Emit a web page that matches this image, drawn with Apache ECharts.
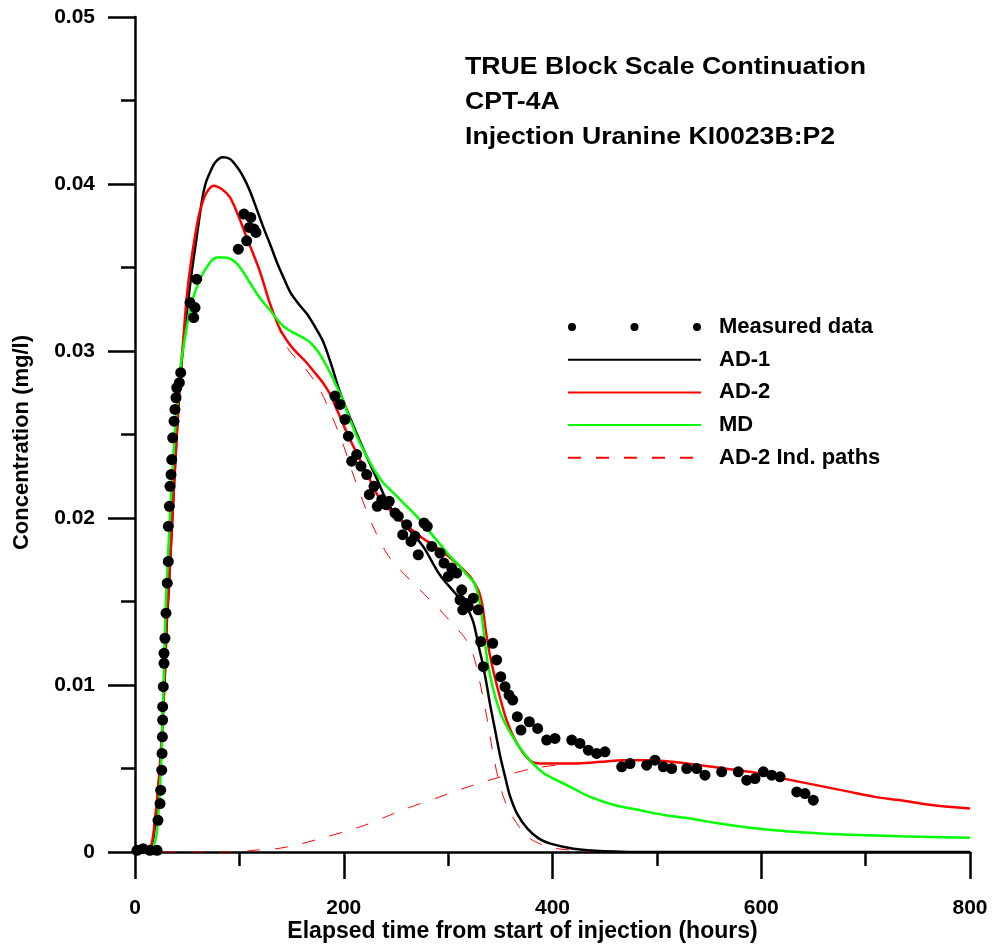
<!DOCTYPE html>
<html lang="en">

<head>
    <meta charset="UTF-8">
    <title>CPT-4A Uranine breakthrough</title>
    <style>
        html, body { margin: 0; padding: 0; background: #fff; }
        #chart { width: 994px; height: 946px; }
    </style>
    <script src="https://cdn.jsdelivr.net/npm/echarts@6/dist/echarts.min.js"></script>
</head>

<body>
    <div id="chart"></div>

    <script>
        // [hours, mg/l]
        var measured = [
            [1.9, 0.0001], [7.7, 0.0002], [14.4, 0.0001], [21.1, 0.0001],
            [22.0, 0.0019], [24.0, 0.0029], [24.6, 0.0037], [25.6, 0.0049], [25.9, 0.0059], [26.2, 0.0069],
            [26.5, 0.0079], [26.5, 0.0087], [27.1, 0.0099], [27.8, 0.0113], [27.8, 0.0119], [28.7, 0.0128],
            [29.7, 0.0143], [30.9, 0.0161], [31.9, 0.0174], [31.9, 0.0195], [32.9, 0.0207], [33.5, 0.0219],
            [34.5, 0.0226], [35.2, 0.0235], [36.1, 0.0248], [37.4, 0.0258], [38.3, 0.0265], [39.3, 0.0272],
            [40.0, 0.0278], [42.5, 0.0281], [43.8, 0.0287],
            [52.7, 0.0329], [56.2, 0.0320], [57.5, 0.0326], [59.1, 0.0343],
            [99.0, 0.0361], [107.0, 0.0366], [104.4, 0.0382], [110.9, 0.0380], [109.5, 0.0374],
            [114.0, 0.0373], [115.9, 0.0371],
            [191.6, 0.0273], [196.4, 0.0268], [201.2, 0.0259], [204.4, 0.0249], [212.4, 0.0238],
            [207.6, 0.0234], [216.5, 0.0231], [222.0, 0.0226], [229.0, 0.0219], [224.5, 0.0214],
            [236.4, 0.0211], [243.6, 0.0210], [232.1, 0.0207], [240.5, 0.0208], [249.1, 0.0203],
            [252.3, 0.0201], [260.3, 0.0196], [256.5, 0.0190], [268.3, 0.0189], [264.4, 0.0186],
            [276.9, 0.0197], [280.0, 0.0195], [271.4, 0.0178], [284.3, 0.0183], [292.2, 0.0179],
            [296.0, 0.0173], [303.4, 0.0170], [300.2, 0.0165], [308.2, 0.0167], [313.0, 0.0157],
            [311.4, 0.0151], [316.2, 0.0149], [314.0, 0.0145], [319.3, 0.0147], [324.1, 0.0152],
            [328.9, 0.0145], [331.2, 0.0126], [342.7, 0.0125], [333.7, 0.0111], [346.5, 0.0115],
            [350.4, 0.0105], [354.5, 0.0099], [358.3, 0.0094], [361.9, 0.0091], [366.3, 0.0081],
            [369.8, 0.0073], [377.8, 0.0078], [385.8, 0.0074], [394.4, 0.0067], [402.4, 0.0068],
            [418.4, 0.0067], [426.3, 0.0065], [434.3, 0.0061], [442.3, 0.0059], [450.3, 0.0060],
            [466.3, 0.0051], [474.3, 0.0053], [490.2, 0.0052], [498.2, 0.0055], [506.2, 0.0051],
            [514.2, 0.0050], [528.6, 0.0050], [538.2, 0.0050], [546.1, 0.0046], [562.1, 0.0048],
            [578.0, 0.0048], [586.1, 0.0043], [594.0, 0.0044], [602.0, 0.0048], [610.0, 0.0046],
            [618.0, 0.0045], [634.0, 0.0036], [641.9, 0.0035], [649.9, 0.0031]
        ];

        var ad1 = [
            [0, 0], [13, 0], [16, 0.0003], [19, 0.0015], [22.3, 0.0037], [25.6, 0.0068], [28.7, 0.0107],
            [30.3, 0.0135], [32, 0.0153], [37, 0.0215], [43, 0.0280], [48, 0.0314], [54.3, 0.0347],
            [59.1, 0.0368], [63.9, 0.0389], [67.5, 0.0400], [71.9, 0.0407], [77, 0.0413], [84, 0.0416],
            [91, 0.0415], [98, 0.0410], [104, 0.0404], [110, 0.0396], [116, 0.0386], [123, 0.0374],
            [130, 0.0363], [136, 0.0353], [143, 0.0343], [149, 0.0335], [157, 0.0328], [165, 0.0322],
            [172, 0.0315], [180, 0.0306], [188, 0.0292], [196, 0.0276], [206, 0.0260], [219, 0.0241],
            [232, 0.0223], [244, 0.0207], [260, 0.0195], [276, 0.0183], [292, 0.0166], [308, 0.0154],
            [318, 0.0146], [324, 0.0138], [329, 0.0124], [333, 0.0113], [337, 0.0100], [340, 0.0089],
            [345, 0.0073], [350, 0.0057], [355, 0.0044], [359, 0.0034], [366, 0.0023], [376, 0.0014],
            [387, 0.0008], [398, 0.0005], [420, 0.0002], [450, 0.00005], [500, 0], [800, 0]
        ];

        var ad2 = [
            [0, 0], [11, 0], [16, 0.0005], [19, 0.0019], [22.3, 0.0039], [25.6, 0.0069], [28.7, 0.0109],
            [30.3, 0.0139], [32, 0.0155], [37, 0.0215], [43, 0.0283], [46.3, 0.0307], [49.5, 0.0332],
            [54.3, 0.0356], [60.7, 0.0380], [64.7, 0.0389], [68.7, 0.0395], [75, 0.0399], [83, 0.0397],
            [91, 0.0392], [99, 0.0381], [107, 0.0368], [114, 0.0357], [120, 0.0347], [129, 0.0329],
            [139, 0.0313], [147, 0.0305], [155, 0.0299], [163, 0.0294], [171, 0.0288], [180, 0.0281],
            [187, 0.0274], [194, 0.0264], [206, 0.0247], [222, 0.0227], [235, 0.0211], [254, 0.0199],
            [273, 0.0189], [292, 0.0181], [308, 0.0173], [321, 0.0165], [327, 0.0159], [330, 0.0155],
            [333, 0.0147], [336, 0.0133], [340, 0.0118], [347, 0.0099], [356, 0.0079], [366, 0.0065],
            [378, 0.0055], [388, 0.0053], [400, 0.0053], [420, 0.0053], [446, 0.0054], [468, 0.0055],
            [493, 0.0055], [515, 0.0054], [541, 0.0052], [565, 0.0050], [589, 0.0048], [613, 0.0045],
            [637, 0.0042], [661, 0.0039], [685, 0.0036], [709, 0.0033], [733, 0.0031], [765, 0.0028],
            [800, 0.0026]
        ];

        var md = [
            [0, 0], [15, 0], [18, 0.0004], [20.8, 0.0011], [24, 0.0039], [26.5, 0.0079], [28.1, 0.0119],
            [29.7, 0.0151], [33, 0.0195], [37, 0.0240], [43, 0.0287], [47.9, 0.0308], [54.3, 0.0329],
            [62.3, 0.0343], [71.9, 0.0353], [79, 0.0356], [86, 0.0356], [92, 0.0355], [98, 0.0352],
            [104, 0.0347], [110, 0.0341], [116, 0.0335], [123, 0.0329], [130, 0.0324], [136, 0.0319],
            [142, 0.0315], [149, 0.0312], [155, 0.0310], [161, 0.0308], [168, 0.0305], [175, 0.0300],
            [181, 0.0294], [187, 0.0287], [193, 0.0279], [199, 0.0271], [206, 0.0259], [214, 0.0247],
            [222, 0.0237], [230, 0.0228], [238, 0.0221], [246, 0.0216], [254, 0.0211], [262, 0.0206],
            [270, 0.0201], [278, 0.0195], [286, 0.0189], [294, 0.0183], [302, 0.0177], [310, 0.0172],
            [318, 0.0166], [324, 0.0162], [327, 0.0158], [330, 0.0150], [332, 0.0142], [335, 0.0127],
            [338, 0.0113], [343, 0.0098], [348, 0.0087], [353, 0.0079], [360, 0.0071], [366, 0.0065],
            [373, 0.0059], [381, 0.0053], [392, 0.0047], [404, 0.0043], [420, 0.0038], [436, 0.0033],
            [460, 0.0028], [484, 0.0025], [508, 0.0022], [532, 0.0020], [560, 0.0017], [589, 0.00145],
            [613, 0.0013], [637, 0.00118], [661, 0.0011], [685, 0.00104], [733, 0.00094], [800, 0.00086]
        ];

        // AD-2 individual paths
        var ad2Path1 = [
            [0, 0], [11, 0], [16, 0.0005], [19, 0.0019], [22.3, 0.0039], [25.6, 0.0069], [28.7, 0.0109],
            [30.3, 0.0139], [32, 0.0155], [37, 0.0215], [43, 0.0283], [46.3, 0.0307], [49.5, 0.0332],
            [54.3, 0.0356], [60.7, 0.0380], [68.7, 0.0395], [75, 0.0399], [83, 0.0397], [91, 0.0392],
            [99, 0.0381], [107, 0.0368], [120, 0.0347], [129, 0.0329], [139, 0.0312], [146, 0.0302],
            [155, 0.0295], [165, 0.0288], [177, 0.0277], [190, 0.0259], [200, 0.0243], [209, 0.0226],
            [219, 0.0209], [228, 0.0195], [241, 0.0179], [254, 0.0169], [273, 0.0157], [292, 0.0145],
            [308, 0.0134], [315, 0.0129], [321, 0.0123], [326, 0.0114], [330, 0.0103], [337, 0.0081],
            [343, 0.0059], [348, 0.0044], [353, 0.0033], [359, 0.0024], [366, 0.0017], [373, 0.0011],
            [381, 0.0007], [392, 0.0004], [405, 0.0002], [430, 0.00005], [460, 0], [800, 0]
        ];

        var ad2Path2 = [
            [0, 0], [100, 0], [113, 0.0001], [136, 0.0002], [160, 0.0005], [177, 0.0008], [200, 0.0012],
            [220, 0.0016], [240, 0.0021], [260, 0.0026], [292, 0.0033], [324, 0.0040], [356, 0.0046],
            [381, 0.0050], [404, 0.0052], [420, 0.0053], [446, 0.0054], [468, 0.0055], [493, 0.0055],
            [515, 0.0054], [541, 0.0052], [565, 0.0050], [589, 0.0048], [613, 0.0045], [637, 0.0042],
            [661, 0.0039], [685, 0.0036], [709, 0.0033], [733, 0.0031], [765, 0.0028], [800, 0.0026]
        ];

        var titleLines = ['TRUE Block Scale Continuation', 'CPT-4A', 'Injection Uranine KI0023B:P2'];

        var FONT = "'Liberation Sans', Arial, sans-serif";
        var threeDots = 'path://M0,4A4,4,0,1,1,8,4A4,4,0,1,1,0,4Z' +
            'M62.5,4A4,4,0,1,1,70.5,4A4,4,0,1,1,62.5,4Z' +
            'M125,4A4,4,0,1,1,133,4A4,4,0,1,1,125,4Z';

        var myChart = echarts.init(document.getElementById('chart'));

        function curve(name, data, color, width, type, z) {
            return {
                name: name,
                type: 'line',
                data: data,
                symbol: 'none',
                smooth: 0.3,
                z: z,
                lineStyle: { color: color, width: width, type: type },
                itemStyle: { color: color }
            };
        }

        // line entries in the legend: keep the line, hide the marker
        function lineItem(name) {
            return { name: name, itemStyle: { opacity: 0 } };
        }

        var option = {
            animation: false,
            backgroundColor: '#fff',
            graphic: [{
                type: 'text',
                x: 465,
                y: 50,
                scaleX: 1.11,
                style: {
                    text: titleLines.join('\n'),
                    fontFamily: FONT,
                    fontWeight: 'bold',
                    fontSize: 24,
                    lineHeight: 35,
                    fill: '#000'
                }
            }],
            legend: {
                orient: 'vertical',
                left: 567,
                top: 316,
                padding: 0,
                itemWidth: 133,
                itemHeight: 20,
                itemGap: 10.7,
                textStyle: {
                    fontFamily: FONT,
                    fontWeight: 'bold',
                    fontSize: 22,
                    color: '#000',
                    padding: [0, 0, 0, 13]
                },
                data: [
                    { name: 'Measured data', icon: threeDots },
                    lineItem('AD-1'), lineItem('AD-2'), lineItem('MD'), lineItem('AD-2 Ind. paths')
                ]
            },
            grid: { left: 135, right: 24, top: 17, bottom: 94, containLabel: false, outerBoundsMode: 'none' },
            xAxis: {
                type: 'value',
                min: 0,
                max: 800,
                interval: 200,
                name: 'Elapsed time from start of injection (hours)',
                nameLocation: 'middle',
                nameGap: 68,
                nameMoveOverlap: false,
                nameTextStyle: {
                    fontFamily: FONT, fontWeight: 'bold', fontSize: 23, color: '#000',
                    padding: [0, 60, 0, 0]
                },
                axisLine: { lineStyle: { color: '#000', width: 2.5 } },
                axisTick: { length: 27, lineStyle: { color: '#000', width: 2.5 } },
                minorTick: { show: true, splitNumber: 2, length: 14, lineStyle: { color: '#000', width: 2.5 } },
                splitLine: { show: false },
                axisLabel: { margin: 46, fontFamily: FONT, fontWeight: 'bold', fontSize: 21, color: '#000' }
            },
            yAxis: {
                type: 'value',
                min: 0,
                max: 0.05,
                interval: 0.01,
                name: 'Concentration (mg/l)',
                nameLocation: 'middle',
                nameGap: 102,
                nameMoveOverlap: false,
                nameTextStyle: {
                    fontFamily: FONT, fontWeight: 'bold', fontSize: 22, color: '#000',
                    padding: [0, 16, 0, 0]
                },
                axisLine: { show: true, lineStyle: { color: '#000', width: 2.5 } },
                axisTick: { show: true, length: 27, lineStyle: { color: '#000', width: 2.5 } },
                minorTick: { show: true, splitNumber: 2, length: 14, lineStyle: { color: '#000', width: 2.5 } },
                splitLine: { show: false },
                axisLabel: { margin: 40, fontFamily: FONT, fontWeight: 'bold', fontSize: 21, color: '#000' }
            },
            series: [
                curve('AD-2 Ind. paths', ad2Path1, '#ff0000', 1, [13, 15], 1),
                curve('AD-2 Ind. paths', ad2Path2, '#ff0000', 1, [13, 15], 1),
                curve('AD-1', ad1, '#000000', 2.5, 'solid', 2),
                curve('AD-2', ad2, '#ff0000', 2.5, 'solid', 3),
                curve('MD', md, '#00ff00', 2.5, 'solid', 4),
                {
                    name: 'Measured data',
                    type: 'scatter',
                    data: measured,
                    symbol: 'circle',
                    symbolSize: 11,
                    z: 5,
                    itemStyle: { color: '#000', opacity: 1 }
                }
            ]
        };

        myChart.setOption(option);
    </script>
</body>

</html>
